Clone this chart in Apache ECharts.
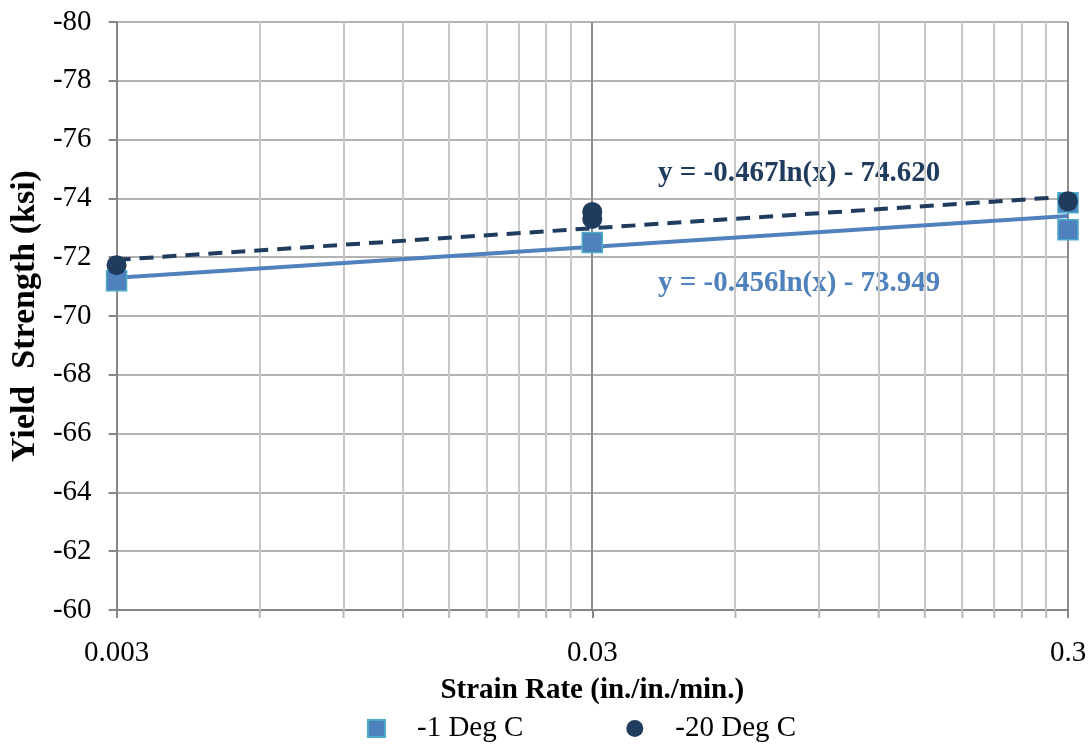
<!DOCTYPE html>
<html><head><meta charset="utf-8">
<script src="https://cdn.jsdelivr.net/npm/echarts@6/dist/echarts.min.js"></script>
<style>html,body{margin:0;padding:0;background:#fff}#c{width:1091px;height:748px}</style>
</head><body><div id="c"></div>
<script>
const xTickLabels = ['0.003', '0.03', '0.3'];
const xMin = 0.003, xMax = 0.3;
const majorGridX = [0.03, 0.3];
const minorGridX = [0.006, 0.009, 0.012, 0.015, 0.018, 0.021, 0.024, 0.027,
                    0.06, 0.09, 0.12, 0.15, 0.18, 0.21, 0.24, 0.27];
const minus1Points = [[0.003, -71.2], [0.03, -72.5], [0.3, -73.85], [0.3, -72.93]];
const minus20Points = [[0.003, -71.73], [0.03, -73.54], [0.03, -73.3], [0.3, -73.9]];
// trendline end values (log fit evaluated at axis ends)
const trendMinus1 = [[0.003, -71.30], [0.3, -73.40]];
const trendMinus20 = [[0.003, -71.91], [0.3, -74.06]];
const eqMinus20 = 'y = -0.467ln(x) - 74.620';
const eqMinus1 = 'y = -0.456ln(x) - 73.949';

const FONT = '"Liberation Serif", "Times New Roman", serif';
const chart = echarts.init(document.getElementById('c'));
const tickMarks = minorGridX.map(x => [x, -60]);

function vGrid(color) {
  return function (params, api) {
    const x = api.value(0);
    const p1 = api.coord([x, -80]);
    const p2 = api.coord([x, -60]);
    return {
      type: 'line',
      shape: { x1: Math.round(p1[0]), y1: p1[1], x2: Math.round(p2[0]), y2: p2[1] },
      style: { stroke: color, lineWidth: 2 }
    };
  };
}

chart.setOption({
  animation: false,
  grid: { left: 113, right: 23, top: 22, bottom: 138, containLabel: false },
  xAxis: [{
    type: 'log', logBase: 10, min: xMin, max: xMax,
    axisLine: { show: true, lineStyle: { color: '#868686', width: 2 } },
    axisTick: { show: false }, axisLabel: { show: false }, splitLine: { show: false },
    name: 'Strain Rate (in./in./min.)', nameLocation: 'middle', nameGap: 66,
    nameTextStyle: { fontFamily: FONT, fontWeight: 'bold', fontSize: 29, color: '#000' }
  }, {
    type: 'category', data: xTickLabels, boundaryGap: false, position: 'bottom',
    axisLine: { show: false },
    axisTick: { show: true, length: 8, lineStyle: { color: '#868686', width: 2 } },
    axisLabel: { fontFamily: FONT, fontSize: 29, color: '#000', margin: 29 },
    splitLine: { show: false }
  }],
  yAxis: {
    type: 'value', inverse: true, min: -80, max: -60, interval: 2,
    axisLine: { show: true, lineStyle: { color: '#868686', width: 2 } },
    axisTick: { show: true, length: 8, lineStyle: { color: '#868686', width: 2 } },
    axisLabel: { fontFamily: FONT, fontSize: 29, color: '#000', margin: 25 },
    splitLine: { show: true, lineStyle: { color: '#b3b3b3', width: 2 } },
    name: 'Yield  Strength (ksi)', nameLocation: 'middle', nameGap: 73,
    nameTextStyle: { fontFamily: FONT, fontWeight: 'bold', fontSize: 34, color: '#000' }
  },
  legend: {
    bottom: 0, left: 362, itemGap: 103, itemWidth: 17, itemHeight: 17,
    textStyle: { fontFamily: FONT, fontSize: 29, color: '#000', padding: [0, 0, 0, 27] },
    data: [{ name: '-1 Deg C', icon: 'rect' }, { name: '-20 Deg C', icon: 'circle' }]
  },
  graphic: [
    { type: 'text', left: 658, top: 159, style: { text: eqMinus20, fill: '#1f3b5e', font: 'bold 29px ' + FONT } },
    { type: 'text', left: 658, top: 269, style: { text: eqMinus1, fill: '#4f81bd', font: 'bold 29px ' + FONT } }
  ],
  series: [
    {
      name: 'minorGrid', type: 'custom', data: minorGridX.map(v => [v]), silent: true,
      renderItem: vGrid('#c8c8c8'), z: 1
    },
    {
      name: 'majorGrid', type: 'custom', data: majorGridX.map(v => [v]), silent: true,
      renderItem: vGrid('#8c8c8c'), z: 1
    },
    {
      name: 'minorTicks', type: 'scatter', data: tickMarks, silent: true,
      symbol: 'rect', symbolSize: [2, 8], symbolOffset: [0, 4],
      itemStyle: { color: '#a6a6a6' }, z: 1
    },
    {
      name: 'trend -1', type: 'line', data: trendMinus1, symbol: 'none', silent: true,
      lineStyle: { color: '#4f81bd', width: 4 }, z: 3
    },
    {
      name: 'trend -20', type: 'line', data: trendMinus20, symbol: 'none', silent: true,
      lineStyle: { color: '#1f3b5e', width: 4, type: [14, 9] }, z: 3
    },
    {
      name: '-1 Deg C', type: 'scatter', data: minus1Points, symbol: 'rect', symbolSize: 20,
      itemStyle: { color: '#4f81bd', borderColor: '#4bacc6', borderWidth: 1.5, opacity: 1 }, z: 4
    },
    {
      name: '-20 Deg C', type: 'scatter', data: minus20Points, symbol: 'circle', symbolSize: 20,
      itemStyle: { color: '#1f3b5e', opacity: 1 }, z: 5
    }
  ]
});
</script></body></html>
